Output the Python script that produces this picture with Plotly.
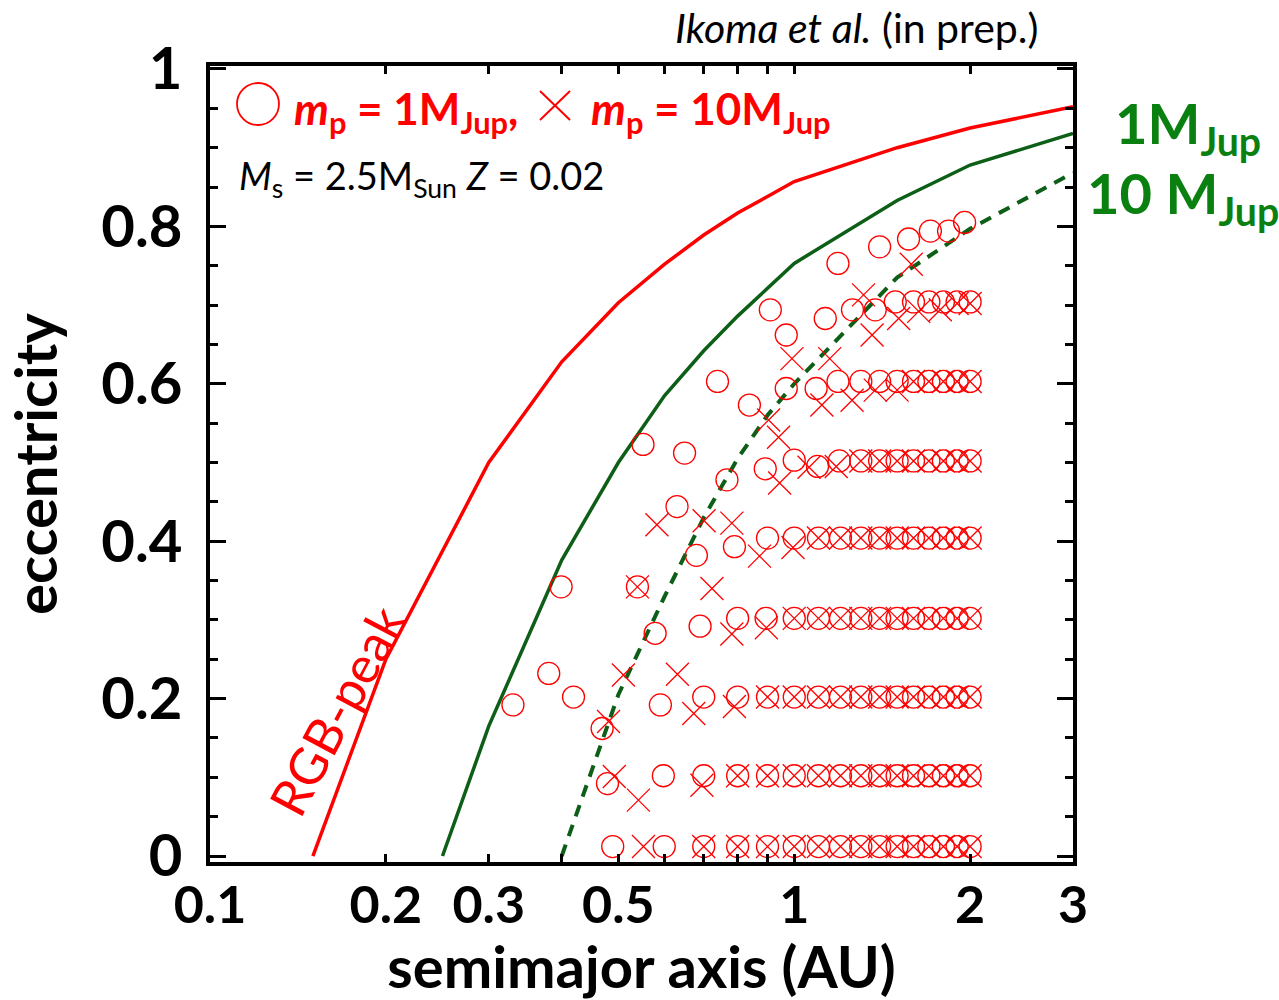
import math
import plotly.graph_objects as go

# ---------------- data ----------------
# RGB-peak boundary (red)
rgb_a = [0.15, 0.2, 0.3, 0.4, 0.5, 0.6, 0.7, 0.8, 0.9, 1.0, 1.5, 2.0, 3.0]
rgb_e = [0.0, 0.25, 0.50, 0.628, 0.703, 0.752, 0.789, 0.817, 0.838, 0.857, 0.900, 0.925, 0.952]

# engulfment boundary, 1 M_Jup (solid green)
g1_a = [0.25, 0.3, 0.4, 0.5, 0.6, 0.7, 0.8, 0.9, 1.0, 1.5, 2.0, 3.0]
g1_e = [0.0, 0.165, 0.376, 0.50, 0.585, 0.642, 0.686, 0.722, 0.753, 0.833, 0.878, 0.918]

# engulfment boundary, 10 M_Jup (dashed green)
g10_a = [0.4, 0.5, 0.6, 0.7, 0.8, 0.9, 1.0, 1.5, 2.0, 3.0]
g10_e = [0.0, 0.205, 0.33, 0.43, 0.505, 0.56, 0.60, 0.735, 0.797, 0.868]

# surviving planets, m_p = 1 M_Jup (circles)
c1_a = [
    0.330, 0.380, 0.419, 0.399, 0.469, 0.479, 0.489, 0.539, 0.551, 0.578,
    0.590, 0.597, 0.599, 0.630, 0.649, 0.680, 0.690, 0.700, 0.700, 0.700,
    0.739, 0.767, 0.790, 0.800, 0.800, 0.800, 0.800, 0.838, 0.892, 0.900,
    0.895, 0.900, 0.900, 0.900, 0.910, 0.969, 0.969,
    1.0, 1.0, 1.0, 1.0, 1.0, 1.0,
    1.09, 1.096, 1.13, 1.188, 1.188, 1.194, 1.258, 1.376, 1.40, 1.489,
    1.569, 1.71, 1.837, 1.957,
    # e ~ 0.7 row
    1.6, 1.7, 1.8, 1.9, 2.0,
    # e ~ 0.6 row
    1.3, 1.4, 1.5, 1.6, 1.7, 1.8, 1.9, 2.0,
    # e ~ 0.5 row
    1.3, 1.4, 1.5, 1.6, 1.7, 1.8, 1.9, 2.0,
    # e ~ 0.4 row
    1.1, 1.2, 1.3, 1.4, 1.5, 1.6, 1.7, 1.8, 1.9, 2.0,
    # e ~ 0.3 row
    1.1, 1.2, 1.3, 1.4, 1.5, 1.6, 1.7, 1.8, 1.9, 2.0,
    # e ~ 0.2 row
    1.1, 1.2, 1.3, 1.4, 1.5, 1.6, 1.7, 1.8, 1.9, 2.0,
    # e ~ 0.1 row
    1.1, 1.2, 1.3, 1.4, 1.5, 1.6, 1.7, 1.8, 1.9, 2.0,
    # e ~ 0.01 row
    1.1, 1.2, 1.3, 1.4, 1.5, 1.6, 1.7, 1.8, 1.9, 2.0,
]
c1_e = [
    0.192, 0.232, 0.202, 0.342, 0.162, 0.092, 0.012, 0.342, 0.523, 0.283,
    0.192, 0.102, 0.012, 0.444, 0.512, 0.382, 0.292, 0.202, 0.102, 0.012,
    0.603, 0.478, 0.393, 0.302, 0.202, 0.102, 0.012, 0.573, 0.492, 0.404,
    0.302, 0.202, 0.102, 0.012, 0.694, 0.662, 0.594,
    0.503, 0.404, 0.302, 0.202, 0.102, 0.012,
    0.594, 0.495, 0.683, 0.603, 0.753, 0.502, 0.694, 0.694, 0.774, 0.704,
    0.784, 0.794, 0.794, 0.805,
    0.704, 0.704, 0.704, 0.704, 0.704,
    0.603, 0.603, 0.603, 0.603, 0.603, 0.603, 0.603, 0.603,
    0.502, 0.502, 0.502, 0.502, 0.502, 0.502, 0.502, 0.502,
    0.404, 0.404, 0.404, 0.404, 0.404, 0.404, 0.404, 0.404, 0.404, 0.404,
    0.302, 0.302, 0.302, 0.302, 0.302, 0.302, 0.302, 0.302, 0.302, 0.302,
    0.202, 0.202, 0.202, 0.202, 0.202, 0.202, 0.202, 0.202, 0.202, 0.202,
    0.102, 0.102, 0.102, 0.102, 0.102, 0.102, 0.102, 0.102, 0.102, 0.102,
    0.012, 0.012, 0.012, 0.012, 0.012, 0.012, 0.012, 0.012, 0.012, 0.012,
]

# surviving planets, m_p = 10 M_Jup (crosses)
c10_a = [
    0.481, 0.492, 0.510, 0.539, 0.541, 0.552, 0.582, 0.631, 0.673, 0.695,
    0.700, 0.701, 0.723, 0.782, 0.782, 0.790, 0.800, 0.800, 0.872, 0.896,
    0.900, 0.900, 0.900, 0.904, 0.940, 0.944, 0.991, 0.995,
    1.0, 1.0, 1.0, 1.0,
    1.06, 1.115, 1.15, 1.18, 1.256, 1.314, 1.359, 1.376, 1.5, 1.509,
    1.586, 1.633, 1.778, 1.9, 2.0,
    # e ~ 0.6 row
    1.6, 1.7, 1.8, 1.9, 2.0,
    # e ~ 0.5 row
    1.3, 1.4, 1.5, 1.6, 1.7, 1.8, 1.9, 2.0,
    # e ~ 0.4 row
    1.1, 1.2, 1.3, 1.4, 1.5, 1.6, 1.7, 1.8, 1.9, 2.0,
    # e ~ 0.3 row
    1.1, 1.2, 1.3, 1.4, 1.5, 1.6, 1.7, 1.8, 1.9, 2.0,
    # e ~ 0.2 row
    1.1, 1.2, 1.3, 1.4, 1.5, 1.6, 1.7, 1.8, 1.9, 2.0,
    # e ~ 0.1 row
    1.1, 1.2, 1.3, 1.4, 1.5, 1.6, 1.7, 1.8, 1.9, 2.0,
    # e ~ 0.01 row
    1.1, 1.2, 1.3, 1.4, 1.5, 1.6, 1.7, 1.8, 1.9, 2.0,
]
c10_e = [
    0.171, 0.101, 0.230, 0.342, 0.071, 0.012, 0.421, 0.231, 0.181, 0.090,
    0.012, 0.426, 0.340, 0.282, 0.423, 0.190, 0.102, 0.012, 0.381, 0.290,
    0.202, 0.102, 0.012, 0.554, 0.532, 0.474, 0.632, 0.392,
    0.302, 0.202, 0.102, 0.012,
    0.494, 0.573, 0.632, 0.495, 0.579, 0.713, 0.662, 0.592, 0.592, 0.683,
    0.752, 0.692, 0.694, 0.702, 0.702,
    0.603, 0.603, 0.603, 0.603, 0.603,
    0.502, 0.502, 0.502, 0.502, 0.502, 0.502, 0.502, 0.502,
    0.404, 0.404, 0.404, 0.404, 0.404, 0.404, 0.404, 0.404, 0.404, 0.404,
    0.302, 0.302, 0.302, 0.302, 0.302, 0.302, 0.302, 0.302, 0.302, 0.302,
    0.202, 0.202, 0.202, 0.202, 0.202, 0.202, 0.202, 0.202, 0.202, 0.202,
    0.102, 0.102, 0.102, 0.102, 0.102, 0.102, 0.102, 0.102, 0.102, 0.102,
    0.012, 0.012, 0.012, 0.012, 0.012, 0.012, 0.012, 0.012, 0.012, 0.012,
]

# axis ticks
x_tickvals = [0.1, 0.2, 0.3, 0.5, 1, 2, 3]
x_ticktext = ["0.1", "0.2", "0.3", "0.5", "1", "2", "3"]
x_minorvals = [0.4, 0.6, 0.7, 0.8, 0.9]
y_tickvals = [0, 0.2, 0.4, 0.6, 0.8, 1.0]
y_ticktext = ["0", "0.2", "0.4", "0.6", "0.8", "1"]

# ---------------- styling ----------------
RED = "#ff0000"
DKGREEN = "#0d5e16"
LBLGREEN = "#0a8010"
FONT = "Lato"

W, H = 1279, 1000
L, R, T, B = 210, 1073, 66, 862   # plot-area edges in pixels


def paper(xp, yp):
    """Pixel position -> paper coordinates of the plot area."""
    return (xp - L) / (R - L), (B - yp) / (B - T)


fig = go.Figure()

fig.add_trace(go.Scatter(x=rgb_a, y=rgb_e, mode="lines",
                         line=dict(color=RED, width=3.5), showlegend=False))
fig.add_trace(go.Scatter(x=g1_a, y=g1_e, mode="lines",
                         line=dict(color=DKGREEN, width=3.5), showlegend=False))
fig.add_trace(go.Scatter(x=g10_a, y=g10_e, mode="lines",
                         line=dict(color=DKGREEN, width=4, dash="12px,9px"),
                         showlegend=False))
fig.add_trace(go.Scatter(x=c1_a, y=c1_e, mode="markers",
                         marker=dict(symbol="circle-open", size=22, color=RED,
                                     line=dict(width=1.3, color=RED)),
                         showlegend=False))
fig.add_trace(go.Scatter(x=c10_a, y=c10_e, mode="markers",
                         marker=dict(symbol="x-thin-open", size=23, color=RED,
                                     line=dict(width=1.3, color=RED)),
                         showlegend=False))

axis_common = dict(
    showline=True, linewidth=4, linecolor="black", mirror="allticks",
    ticks="inside", tickwidth=3, tickcolor="black", showgrid=False,
    zeroline=False, automargin=False,
)

fig.update_xaxes(
    type="log", range=[math.log10(0.1), math.log10(3)],
    tickmode="array", tickvals=x_tickvals, ticktext=x_ticktext,
    ticklen=8, ticklabelstandoff=-5,
    tickfont=dict(family=FONT, size=52, color="black", weight="bold"),
    minor=dict(tickmode="array", tickvals=x_minorvals, ticks="inside",
               ticklen=8, tickwidth=3, tickcolor="black", showgrid=False),
    title=dict(text="semimajor axis (AU)", standoff=25,
               font=dict(family=FONT, size=58, color="black", weight="bold")),
    **axis_common,
)
fig.update_yaxes(
    range=[-0.0076, 1.0038],
    tickmode="array", tickvals=y_tickvals, ticktext=y_ticktext,
    ticklen=16, ticklabelstandoff=12,
    tickfont=dict(family=FONT, size=58, color="black", weight="bold"),
    minor=dict(dtick=0.05, ticks="inside", ticklen=8, tickwidth=3,
               tickcolor="black", showgrid=False),
    title=dict(text="eccentricity", standoff=32,
               font=dict(family=FONT, size=58, color="black", weight="bold")),
    **axis_common,
)

# longer tick at a = 1 (bottom and top)
long_len = 17 / (B - T)
shapes = [
    dict(type="line", xref="x", yref="paper", x0=0, x1=0, y0=0, y1=long_len,
         line=dict(color="black", width=3)),
    dict(type="line", xref="x", yref="paper", x0=0, x1=0, y0=1 - long_len, y1=1,
         line=dict(color="black", width=3)),
]

# symbol keys in the caption
cx, cy = paper(258, 104)
rx = 21 / (R - L)
ry = 21 / (B - T)
shapes.append(dict(type="circle", xref="paper", yref="paper",
                   x0=cx - rx, x1=cx + rx, y0=cy - ry, y1=cy + ry,
                   line=dict(color=RED, width=1.8)))
xx0, yy0 = paper(540, 91)
xx1, yy1 = paper(570, 120)
shapes.append(dict(type="line", xref="paper", yref="paper",
                   x0=xx0, y0=yy0, x1=xx1, y1=yy1, line=dict(color=RED, width=2)))
shapes.append(dict(type="line", xref="paper", yref="paper",
                   x0=xx0, y0=yy1, x1=xx1, y1=yy0, line=dict(color=RED, width=2)))

annotations = []


def add_text(text, xp, yp, size, color, xanchor="left", yanchor="middle",
             weight="normal", angle=0):
    x, y = paper(xp, yp)
    annotations.append(dict(
        text=text, x=x, y=y, xref="paper", yref="paper", showarrow=False,
        xanchor=xanchor, yanchor=yanchor, textangle=angle,
        font=dict(family=FONT, size=size, color=color, weight=weight),
    ))


add_text("<i>Ikoma et al.</i> (in prep.)", 1040, 28, 41, "black",
         xanchor="right")
add_text("<i>m</i><sub>p</sub> = 1M<sub>Jup</sub>,", 292, 112, 44, RED,
         weight="bold")
add_text("<i>m</i><sub>p</sub> = 10M<sub>Jup</sub>", 589, 112, 44, RED,
         weight="bold")
add_text("<i>M</i><sub>s</sub> = 2.5M<sub>Sun</sub> <i>Z</i> = 0.02", 237, 178,
         38, "black")
add_text("1M<sub>Jup</sub>", 1113, 127, 56, LBLGREEN, weight="bold")
add_text("10 M<sub>Jup</sub>", 1085, 197, 56, LBLGREEN, weight="bold")
add_text("RGB-peak", 336, 710, 51, RED, xanchor="center", angle=-62)

fig.update_layout(
    width=W, height=H,
    margin=dict(l=L, r=W - R, t=T, b=H - B, pad=0, autoexpand=False),
    paper_bgcolor="white", plot_bgcolor="white",
    shapes=shapes, annotations=annotations,
    font=dict(family=FONT),
)

fig.write_html("out.html")
